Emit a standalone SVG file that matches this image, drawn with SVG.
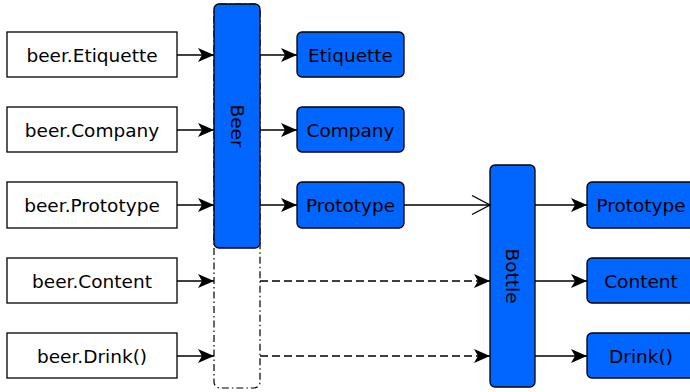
<svg xmlns="http://www.w3.org/2000/svg" width="690" height="392" viewBox="0 0 690 392">
  <style>
    .src { fill: #ffffff; stroke: #000000; stroke-width: 1.3; }
    .obj { fill: #0066ff; stroke: #000000; stroke-width: 1.3; }
    .lbl { font-family: "DejaVu Sans", sans-serif; font-size: 18.5px; fill: #000000; text-anchor: middle; dominant-baseline: central; }
    .ln { fill: none; stroke: #000000; stroke-width: 1.3; }
    .dash { stroke-dasharray: 8 4; }
    .dashdot { fill: none; stroke: #000000; stroke-width: 1.2; stroke-dasharray: 7 3 1.5 3; }
  </style>
  <defs>
    <marker id="arrow" markerUnits="userSpaceOnUse" markerWidth="18" markerHeight="14" refX="16" refY="7" orient="auto">
      <path d="M0,0 L16,7 L0,14 L4,7 Z" fill="#000000"/>
    </marker>
    <marker id="open" markerUnits="userSpaceOnUse" markerWidth="22" markerHeight="22" refX="19" refY="11" orient="auto">
      <path d="M1,1.5 L19,11 L1,20.5" fill="none" stroke="#000000" stroke-width="1.4"/>
    </marker>
  </defs>

  <!-- source expressions -->
  <g id="src-etiquette"><rect class="src" x="7" y="32" width="170" height="45"/><text class="lbl" x="92" y="55">beer.Etiquette</text></g>
  <g id="src-company"><rect class="src" x="7" y="107" width="170" height="45"/><text class="lbl" x="92" y="130">beer.Company</text></g>
  <g id="src-prototype"><rect class="src" x="7" y="182" width="170" height="46"/><text class="lbl" x="92" y="205">beer.Prototype</text></g>
  <g id="src-content"><rect class="src" x="7" y="258" width="170" height="45"/><text class="lbl" x="92" y="281">beer.Content</text></g>
  <g id="src-drink"><rect class="src" x="7" y="333" width="170" height="45"/><text class="lbl" x="92" y="356">beer.Drink()</text></g>

  <!-- Beer object with its delegated region -->
  <g id="beer">
    <rect class="dashdot" x="214" y="4" width="46" height="384" rx="6"/>
    <rect class="obj" x="214" y="4" width="46" height="244" rx="5"/>
    <text class="lbl" transform="translate(237,126) rotate(90)">Beer</text>
  </g>

  <!-- Beer members -->
  <g id="beer-etiquette"><rect class="obj" x="297" y="32" width="107" height="45" rx="5"/><text class="lbl" x="350.5" y="55">Etiquette</text></g>
  <g id="beer-company"><rect class="obj" x="297" y="107" width="107" height="45" rx="5"/><text class="lbl" x="350.5" y="130">Company</text></g>
  <g id="beer-prototype"><rect class="obj" x="297" y="182" width="107" height="46" rx="5"/><text class="lbl" x="350.5" y="205">Prototype</text></g>

  <!-- Bottle object -->
  <g id="bottle">
    <rect class="obj" x="490" y="165" width="45" height="222" rx="5"/>
    <text class="lbl" transform="translate(512.5,276) rotate(90)">Bottle</text>
  </g>

  <!-- Bottle members -->
  <g id="bottle-prototype"><rect class="obj" x="587" y="182" width="110" height="46" rx="5"/><text class="lbl" x="641" y="205">Prototype</text></g>
  <g id="bottle-content"><rect class="obj" x="587" y="258" width="110" height="45" rx="5"/><text class="lbl" x="641" y="281">Content</text></g>
  <g id="bottle-drink"><rect class="obj" x="587" y="333" width="110" height="45" rx="5"/><text class="lbl" x="641" y="356">Drink()</text></g>

  <!-- connectors -->
  <g id="connectors">
    <line class="ln" x1="177" y1="55" x2="214" y2="55" marker-end="url(#arrow)"/>
    <line class="ln" x1="177" y1="130" x2="214" y2="130" marker-end="url(#arrow)"/>
    <line class="ln" x1="177" y1="205" x2="214" y2="205" marker-end="url(#arrow)"/>
    <line class="ln" x1="177" y1="281" x2="214" y2="281" marker-end="url(#arrow)"/>
    <line class="ln" x1="177" y1="356" x2="214" y2="356" marker-end="url(#arrow)"/>

    <line class="ln" x1="260" y1="55" x2="297" y2="55" marker-end="url(#arrow)"/>
    <line class="ln" x1="260" y1="130" x2="297" y2="130" marker-end="url(#arrow)"/>
    <line class="ln" x1="260" y1="205" x2="297" y2="205" marker-end="url(#arrow)"/>

    <line class="ln" x1="404" y1="205" x2="490" y2="205" marker-end="url(#open)"/>
    <line class="ln dash" x1="260" y1="281" x2="490" y2="281" marker-end="url(#arrow)"/>
    <line class="ln dash" x1="260" y1="356" x2="490" y2="356" marker-end="url(#arrow)"/>

    <line class="ln" x1="535" y1="205" x2="587" y2="205" marker-end="url(#arrow)"/>
    <line class="ln" x1="535" y1="281" x2="587" y2="281" marker-end="url(#arrow)"/>
    <line class="ln" x1="535" y1="356" x2="587" y2="356" marker-end="url(#arrow)"/>
  </g>
</svg>
